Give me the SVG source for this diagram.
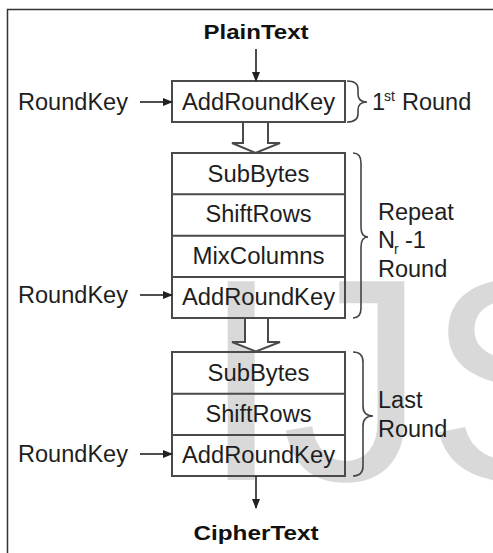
<svg xmlns="http://www.w3.org/2000/svg" width="493" height="553" viewBox="0 0 493 553">
<defs>
<style>
.t{font-family:"Liberation Sans",Arial,sans-serif;font-size:23.5px;fill:#1e1e1e}
.b{font-family:"Liberation Sans",Arial,sans-serif;font-size:21px;font-weight:bold;fill:#111}
.s{font-family:"Liberation Sans",Arial,sans-serif;font-size:14px;fill:#1e1e1e}
.box{fill:none;stroke:#4a4a4a;stroke-width:2}
.ln{fill:none;stroke:#222;stroke-width:1.6}
.br{fill:none;stroke:#444;stroke-width:1.6}
.hol{fill:#fff;stroke:#4a4a4a;stroke-width:2;stroke-linejoin:miter}
</style>
<marker id="ah" markerWidth="10" markerHeight="8" refX="9" refY="4" orient="auto" markerUnits="userSpaceOnUse">
<path d="M0,0 L10,4 L0,8 z" fill="#222"/>
</marker>
</defs>
<rect x="0" y="0" width="493" height="553" fill="#fff"/>
<text x="201" y="480" font-family="Liberation Sans,Arial,sans-serif" font-size="289" fill="#d9d9d9">IJS</text>
<rect x="7.5" y="9.5" width="500" height="560" fill="none" stroke="#333" stroke-width="1.5"/>

<g id="plaintext"><text class="b" x="256" y="39" text-anchor="middle" textLength="105" lengthAdjust="spacingAndGlyphs">PlainText</text></g>
<g id="ciphertext"><text class="b" x="256" y="540" text-anchor="middle" textLength="125" lengthAdjust="spacingAndGlyphs">CipherText</text></g>

<g id="roundkey1"><text class="t" x="18" y="110" textLength="110" lengthAdjust="spacingAndGlyphs">RoundKey</text></g>
<g id="roundkey2"><text class="t" x="18" y="303" textLength="110" lengthAdjust="spacingAndGlyphs">RoundKey</text></g>
<g id="roundkey3"><text class="t" x="18" y="462" textLength="110" lengthAdjust="spacingAndGlyphs">RoundKey</text></g>

<g id="round1">
<rect class="box" x="172" y="81" width="173" height="41"/>
<text class="t" x="258.5" y="110" text-anchor="middle" textLength="153" lengthAdjust="spacingAndGlyphs">AddRoundKey</text>
</g>

<g id="round-main">
<rect class="box" x="172" y="153" width="173" height="165"/>
<line class="box" x1="172" y1="194.3" x2="345" y2="194.3"/>
<line class="box" x1="172" y1="235.7" x2="345" y2="235.7"/>
<line class="box" x1="172" y1="277" x2="345" y2="277"/>
<text class="t" x="258.5" y="182" text-anchor="middle" textLength="102" lengthAdjust="spacingAndGlyphs">SubBytes</text>
<text class="t" x="258.5" y="222" text-anchor="middle" textLength="106" lengthAdjust="spacingAndGlyphs">ShiftRows</text>
<text class="t" x="258.5" y="264" text-anchor="middle" textLength="132" lengthAdjust="spacingAndGlyphs">MixColumns</text>
<text class="t" x="258.5" y="305" text-anchor="middle" textLength="153" lengthAdjust="spacingAndGlyphs">AddRoundKey</text>
</g>

<g id="round-last">
<rect class="box" x="172" y="352" width="173" height="124"/>
<line class="box" x1="172" y1="393.7" x2="345" y2="393.7"/>
<line class="box" x1="172" y1="435" x2="345" y2="435"/>
<text class="t" x="258.5" y="381" text-anchor="middle" textLength="102" lengthAdjust="spacingAndGlyphs">SubBytes</text>
<text class="t" x="258.5" y="422" text-anchor="middle" textLength="106" lengthAdjust="spacingAndGlyphs">ShiftRows</text>
<text class="t" x="258.5" y="463" text-anchor="middle" textLength="153" lengthAdjust="spacingAndGlyphs">AddRoundKey</text>
</g>

<g id="label-first">
<path class="br" d="M347,81 Q358,81 358,89 L358,94 Q358,102 367,102 Q358,102 358,110 L358,114 Q358,122 347,122"/>
<text class="t" x="372" y="110">1</text>
<text class="s" x="384" y="101">st</text>
<text class="t" x="402" y="110">Round</text>
</g>

<g id="label-repeat">
<path class="br" d="M353,153 Q361,153 361,163 L361,227 Q361,237 368,237 Q361,237 361,247 L361,308 Q361,318 353,318"/>
<text class="t" x="378" y="220">Repeat</text>
<text class="t" x="378" y="248">N</text>
<text class="s" x="394" y="254">r</text>
<text class="t" x="405" y="248">-1</text>
<text class="t" x="378" y="277">Round</text>
</g>

<g id="label-last">
<path class="br" d="M353,352 Q363,352 363,362 L363,406 Q363,416 373,416 Q363,416 363,426 L363,466 Q363,476 353,476"/>
<text class="t" x="378" y="408">Last</text>
<text class="t" x="378" y="437">Round</text>
</g>

<g id="connectors">
<line class="ln" x1="256" y1="49" x2="256" y2="81" marker-end="url(#ah)"/>
<line class="ln" x1="140" y1="102" x2="172" y2="102" marker-end="url(#ah)"/>
<line class="ln" x1="140" y1="295" x2="172" y2="295" marker-end="url(#ah)"/>
<line class="ln" x1="140" y1="454" x2="172" y2="454" marker-end="url(#ah)"/>
<line class="ln" x1="256" y1="476" x2="256" y2="508" marker-end="url(#ah)"/>
<path class="hol" d="M243,122 L268,122 L268,143 L280,143 L255.5,153 L232,143 L243,143 Z"/>
<path class="hol" d="M245,318 L268,318 L268,342 L280,342 L256,351.5 L232,342 L245,342 Z"/>
</g>
</svg>
